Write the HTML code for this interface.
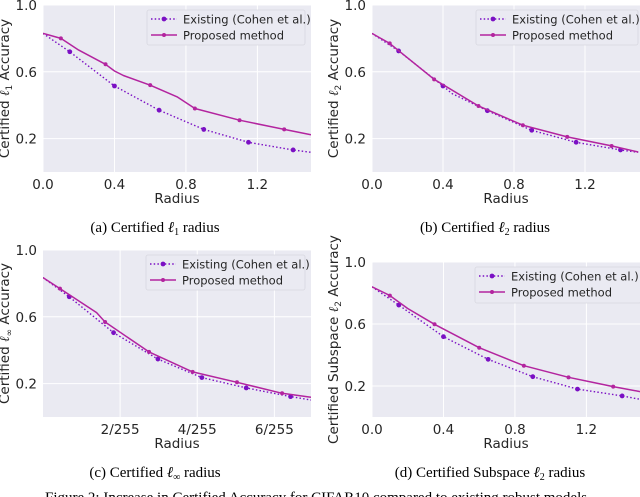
<!DOCTYPE html>
<html><head><meta charset="utf-8">
<style>
body{margin:0;background:#fff;}
svg{display:block;}
text{font-family:"DejaVu Sans","Liberation Sans",sans-serif;fill:#262626;}
.cap{font-family:"Liberation Serif",serif;fill:#000;font-size:15px;}
</style></head>
<body>
<svg id="fig" width="640" height="497" viewBox="0 0 640 497" xmlns="http://www.w3.org/2000/svg"></svg>
<script>
// Panel (a) certified l1
const aExX=[0,0.15,0.4,0.65,0.9,1.15,1.4,1.5];
const aExY=[0.83,0.72,0.515,0.37,0.255,0.178,0.132,0.118];
const aExM=[0,1,1,1,1,1,1,0];
const aPrX=[0,0.1,0.2,0.35,0.4,0.45,0.6,0.75,0.85,1.1,1.35,1.5];
const aPrY=[0.83,0.80,0.73,0.645,0.605,0.578,0.52,0.45,0.38,0.31,0.255,0.223];
const aPrM=[0,1,0,1,0,0,1,0,1,1,1,0];
// Panel (b) certified l2
const bExX=[0,0.15,0.4,0.45,0.65,0.9,1.15,1.4,1.5];
const bExY=[0.83,0.725,0.515,0.47,0.367,0.25,0.178,0.132,0.118];
const bExM=[0,1,1,0,1,1,1,1,0];
const bPrX=[0,0.1,0.35,0.6,0.85,1.1,1.35,1.5];
const bPrY=[0.83,0.77,0.555,0.395,0.28,0.21,0.156,0.12];
const bPrM=[0,1,1,1,1,1,1,0];
// Panel (c) certified l-inf (units of 1/255)
const cExX=[0,0.68,1.83,2.98,4.12,5.27,6.42,6.95];
const cExY=[0.835,0.72,0.505,0.347,0.236,0.174,0.122,0.102];
const cExM=[0,1,1,1,1,1,1,0];
const cPrX=[0,0.44,1.39,1.61,2.75,3.88,5.03,6.2,6.95];
const cPrY=[0.835,0.769,0.625,0.569,0.39,0.27,0.208,0.142,0.118];
const cPrM=[0,1,0,1,1,1,1,1,0];
// Panel (d) subspace l2
const dExX=[0,0.15,0.4,0.65,0.9,1.15,1.4,1.5];
const dExY=[0.84,0.722,0.518,0.372,0.26,0.18,0.136,0.114];
const dExM=[0,1,1,1,1,1,1,0];
const dPrX=[0,0.1,0.2,0.35,0.6,0.85,1.1,1.35,1.5];
const dPrY=[0.84,0.783,0.70,0.598,0.447,0.331,0.256,0.196,0.164];
const dPrM=[0,1,0,1,1,1,1,1,0];
const xTicksA=[0,0.4,0.8,1.2];
const xTickLabA=["0.0","0.4","0.8","1.2"];
const xTicksC=[2,4,6];
const xTickLabC=["2/255","4/255","6/255"];
const yTicks=[0.2,0.6,1.0];
const yTickLab=["0.2","0.6","1.0"];

const NS="http://www.w3.org/2000/svg";
const svg=document.getElementById('fig');
function mk(tag,attrs,parent){const e=document.createElementNS(NS,tag);for(const k in attrs)e.setAttribute(k,attrs[k]);(parent||svg).appendChild(e);return e;}

const panels=[
 {id:'a',L:43,R:311,T:5,B:172,xmax:1.5,ex:[aExX,aExY,aExM],pr:[aPrX,aPrY,aPrM],xt:xTicksA,xl:xTickLabA,ylab:['Certified ','ℓ','1',' Accuracy'],cap:['(a) Certified ','ℓ','1',' radius'],capX:155,capY:232,leg:[147,10,158,35]},
 {id:'b',L:372,R:640,T:5,B:172,xmax:1.51,ex:[bExX,bExY,bExM],pr:[bPrX,bPrY,bPrM],xt:xTicksA,xl:xTickLabA,ylab:['Certified ','ℓ','2',' Accuracy'],cap:['(b) Certified ','ℓ','2',' radius'],capX:485,capY:232,leg:[476,10,162,35]},
 {id:'c',L:43,R:311,T:250,B:417,xmax:6.95,ex:[cExX,cExY,cExM],pr:[cPrX,cPrY,cPrM],xt:xTicksC,xl:xTickLabC,ylab:['Certified ','ℓ','∞',' Accuracy'],cap:['(c) Certified ','ℓ','∞',' radius'],capX:155,capY:477,leg:[146,255,159,35]},
 {id:'d',L:372,R:640,T:262,B:417,xmax:1.5,ex:[dExX,dExY,dExM],pr:[dPrX,dPrY,dPrM],xt:xTicksA,xl:xTickLabA,ylab:['Certified Subspace ','ℓ','2',' Accuracy'],cap:['(d) Certified Subspace ','ℓ','2',' radius'],capX:490,capY:477,leg:[475,267,166,36]}
];
const EXC='#7b10c4', PRC='#b3249f';

panels.forEach(p=>{
  const g=mk('g',{});
  
  
  const sx=v=>p.L+v/p.xmax*(p.R-p.L);
  const sy=v=>p.B-v*(p.B-p.T);
  const bg=mk('rect',{x:p.L,y:p.T,width:p.R-p.L,height:p.B-p.T,fill:'#eaeaf2'},g);
  
  
  p.xt.forEach((t,i)=>{
    mk('line',{x1:sx(t),x2:sx(t),y1:p.T,y2:p.B,stroke:'#fff','stroke-width':1},g);
    const tx=mk('text',{x:sx(t),y:p.B+17,'text-anchor':'middle','font-size':13.5},g);
    tx.textContent=p.xl[i];
    
    
  });
  yTicks.forEach((t,i)=>{
    mk('line',{x1:p.L,x2:p.R,y1:sy(t),y2:sy(t),stroke:'#fff','stroke-width':1},g);
    const tx=mk('text',{x:p.L-6,y:sy(t)+5,'text-anchor':'end','font-size':13.5},g);
    tx.textContent=yTickLab[i];
    
    
  });
  const xl=mk('text',{x:(p.L+p.R)/2,y:p.B+31,'text-anchor':'middle','font-size':13.5},g);
  xl.textContent='Radius';
  
  
  const cy=(p.T+p.B)/2, cx=p.L-34;
  const yl=mk('text',{x:cx,y:cy,'text-anchor':'middle','font-size':13.5,transform:`rotate(-90 ${cx} ${cy})`},g);
  
  
  [p.ylab[0],p.ylab[1],p.ylab[2],p.ylab[3]].forEach((s,i)=>{
    const ts=mk('tspan',i==1?{'font-style':'italic','font-family':'Liberation Serif,serif'}:i==2?{'font-size':9,dy:3}:i==3?{dy:-3}:{},yl);
    ts.textContent=s;
  });
  const cp=mk('text',{x:p.capX,y:p.capY,'text-anchor':'middle',class:'cap'},g);
  
  
  p.cap.forEach((s,i)=>{
    const ts=mk('tspan',i==1?{'font-style':'italic'}:i==2?{'font-size':10,dy:3}:i==3?{dy:-3}:{},cp);
    ts.textContent=s;
  });
  const clipId='clip'+p.id;
  const cpd=mk('clipPath',{id:clipId},g);
  mk('rect',{x:p.L,y:p.T,width:p.R-p.L,height:p.B-p.T},cpd);
  const lg=mk('g',{'clip-path':`url(#${clipId})`},g);
  const series=[[p.ex,EXC,'1.5 2.2','existing-series'],[p.pr,PRC,null,'proposed-series']];
  series.forEach(([d,c,dash,name])=>{
    const pts=d[0].map((x,i)=>sx(x).toFixed(1)+','+sy(d[1][i]).toFixed(1)).join(' ');
    const a={points:pts,fill:'none',stroke:c,'stroke-width':dash?1.4:1.5,'stroke-linejoin':'round'};
    if(dash)a['stroke-dasharray']=dash;
    const pl=mk('polyline',a,lg);
    
    
    d[0].forEach((x,i)=>{
      if(!d[2][i])return;
      const m=mk('circle',{cx:sx(x),cy:sy(d[1][i]),r:dash?2.4:2,fill:c},lg);
      
      
    });
  });
  const [lx,ly,lw,lh]=p.leg;
  const lgd=mk('g',{},g);
  
  
  mk('rect',{x:lx,y:ly,width:lw,height:lh,fill:'#eaeaf2',stroke:'#d8d8e0','stroke-width':0.8,rx:2},lgd);
  const e1=mk('g',{},lgd);
  
  
  mk('line',{x1:lx+4,x2:lx+30,y1:ly+9,y2:ly+9,stroke:EXC,'stroke-width':1.4,'stroke-dasharray':'1.5 2.2'},e1);
  mk('circle',{cx:lx+17,cy:ly+9,r:2.4,fill:EXC},e1);
  const t1=mk('text',{x:lx+36,y:ly+13.5,'font-size':11.5},e1);t1.textContent='Existing (Cohen et al.)';
  const e2=mk('g',{},lgd);
  
  
  mk('line',{x1:lx+4,x2:lx+30,y1:ly+25,y2:ly+25,stroke:PRC,'stroke-width':1.5},e2);
  mk('circle',{cx:lx+17,cy:ly+25,r:2,fill:PRC},e2);
  const t2=mk('text',{x:lx+36,y:ly+29.5,'font-size':11.5},e2);t2.textContent='Proposed method';
});
const fc=mk('text',{x:45,y:502,class:'cap'});
fc.textContent='Figure 2: Increase in Certified Accuracy for CIFAR10 compared to existing robust models';


</script>
</body></html>
